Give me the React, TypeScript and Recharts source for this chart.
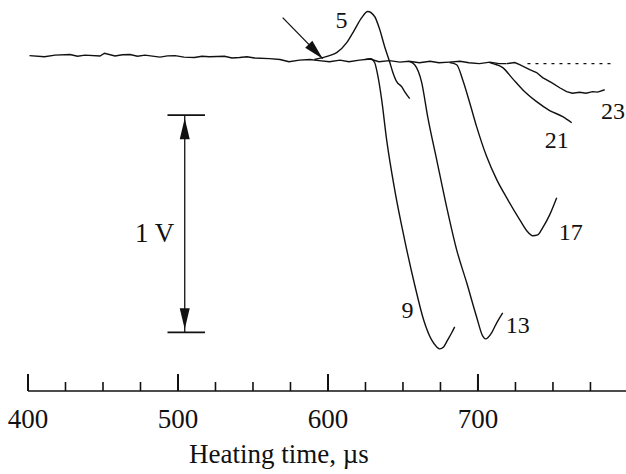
import React from 'react';
import {
  LineChart,
  Line,
  XAxis,
  YAxis,
  ReferenceLine,
  ReferenceDot,
} from 'recharts';

// x: heating time (µs), y: signal (V)
const baseline = [
  { t: 401, v: 0.024 }, { t: 411, v: 0.019 }, { t: 418, v: 0.026 }, { t: 428, v: 0.029 },
  { t: 433, v: 0.021 }, { t: 438, v: 0.026 }, { t: 448, v: 0.022 }, { t: 451, v: 0.035 },
  { t: 458, v: 0.022 }, { t: 463, v: 0.028 }, { t: 468, v: 0.029 }, { t: 473, v: 0.021 },
  { t: 478, v: 0.026 }, { t: 488, v: 0.017 }, { t: 493, v: 0.023 }, { t: 498, v: 0.024 },
  { t: 504, v: 0.017 }, { t: 511, v: 0.015 }, { t: 516, v: 0.021 }, { t: 521, v: 0.019 },
  { t: 531, v: 0.021 }, { t: 536, v: 0.013 }, { t: 541, v: 0.015 }, { t: 546, v: 0.019 },
  { t: 551, v: 0.013 }, { t: 561, v: 0.01 }, { t: 568, v: 0.006 }, { t: 574, v: -0.004 },
  { t: 581, v: 0.003 }, { t: 588, v: 0.006 }, { t: 594, v: 0.001 }, { t: 601, v: -0.004 },
  { t: 608, v: 0.003 }, { t: 614, v: -0.004 }, { t: 621, v: 0.003 }, { t: 628, v: 0.008 },
  { t: 634, v: -0.004 }, { t: 641, v: 0.001 }, { t: 648, v: -0.006 }, { t: 654, v: -0.002 },
  { t: 661, v: -0.009 }, { t: 668, v: -0.002 }, { t: 674, v: -0.009 }, { t: 681, v: -0.006 },
  { t: 688, v: -0.002 }, { t: 694, v: -0.009 }, { t: 701, v: -0.013 }, { t: 708, v: -0.006 },
  { t: 714, v: -0.013 }, { t: 719, v: -0.013 },
];

const curve5 = [
  { t: 591, v: 0.006 }, { t: 596.5, v: 0.015 }, { t: 601, v: 0.024 }, { t: 605.8, v: 0.038 },
  { t: 612.5, v: 0.084 }, { t: 617.8, v: 0.144 }, { t: 622.5, v: 0.199 }, { t: 626.5, v: 0.227 },
  { t: 631.1, v: 0.204 }, { t: 634.5, v: 0.144 }, { t: 637.8, v: 0.065 }, { t: 641.1, v: -0.004 },
  { t: 643.1, v: -0.05 }, { t: 645.8, v: -0.096 }, { t: 649.1, v: -0.119 }, { t: 651.1, v: -0.142 },
  { t: 654.5, v: -0.174 },
];

const curve9 = [
  { t: 625, v: 0.006 }, { t: 628.5, v: 0.01 }, { t: 631.1, v: -0.008 }, { t: 633.1, v: -0.064 },
  { t: 635.8, v: -0.179 }, { t: 639.1, v: -0.363 }, { t: 644.5, v: -0.594 }, { t: 651.1, v: -0.824 },
  { t: 657.8, v: -1.031 }, { t: 663.8, v: -1.193 }, { t: 669.1, v: -1.285 }, { t: 672.5, v: -1.317 },
  { t: 674.5, v: -1.326 }, { t: 677.1, v: -1.317 }, { t: 679.8, v: -1.285 }, { t: 682.5, v: -1.252 },
  { t: 684.5, v: -1.225 },
];

const curve13 = [
  { t: 654.5, v: -0.004 }, { t: 657.8, v: -0.018 }, { t: 662.5, v: -0.1 }, { t: 666.5, v: -0.258 },
  { t: 672.5, v: -0.456 }, { t: 679.1, v: -0.672 }, { t: 685.8, v: -0.87 }, { t: 692.5, v: -1.022 },
  { t: 699.1, v: -1.179 }, { t: 703.1, v: -1.266 }, { t: 705.1, v: -1.28 }, { t: 709.1, v: -1.252 },
  { t: 712.5, v: -1.206 }, { t: 716.5, v: -1.16 },
];

const curve17 = [
  { t: 681.1, v: -0.008 }, { t: 685.8, v: -0.018 }, { t: 689.8, v: -0.087 }, { t: 694.5, v: -0.193 },
  { t: 699.1, v: -0.303 }, { t: 705.8, v: -0.441 }, { t: 712.5, v: -0.547 }, { t: 719.1, v: -0.63 },
  { t: 727.8, v: -0.731 }, { t: 733.1, v: -0.787 }, { t: 736.5, v: -0.805 }, { t: 739.8, v: -0.801 },
  { t: 743.1, v: -0.769 }, { t: 747.8, v: -0.709 }, { t: 752.5, v: -0.63 },
];

const curve21 = [
  { t: 707.8, v: -0.008 }, { t: 712.5, v: -0.018 }, { t: 716.5, v: -0.031 }, { t: 723.1, v: -0.082 },
  { t: 729.8, v: -0.133 }, { t: 739.1, v: -0.188 }, { t: 747.8, v: -0.229 }, { t: 756.5, v: -0.257 },
  { t: 762.5, v: -0.285 },
];

const curve23 = [
  { t: 719.1, v: -0.013 }, { t: 724.5, v: -0.008 }, { t: 727.8, v: -0.018 }, { t: 734.5, v: -0.041 },
  { t: 739.1, v: -0.054 }, { t: 743.1, v: -0.077 }, { t: 749.1, v: -0.1 }, { t: 754.5, v: -0.124 },
  { t: 759.1, v: -0.142 }, { t: 763, v: -0.149 }, { t: 767.8, v: -0.145 }, { t: 772, v: -0.149 },
  { t: 776.5, v: -0.142 }, { t: 779.8, v: -0.144 }, { t: 784.5, v: -0.133 },
];

const dottedLevel = [{ t: 733, v: -0.013 }, { t: 790, v: -0.013 }];

const curveLabels = [
  { text: '5', t: 609, v: 0.19 },
  { text: '9', t: 653, v: -1.147 },
  { text: '13', t: 726.5, v: -1.216 },
  { text: '17', t: 761.8, v: -0.787 },
  { text: '21', t: 752.5, v: -0.363 },
  { text: '23', t: 790, v: -0.23 },
];

const xTicks = [400, 425, 450, 475, 500, 525, 550, 575, 600, 625, 650, 675, 700, 725, 750, 775];
const majorTicks = [400, 500, 600, 700];

const ink = '#111';
const serif = '"Liberation Serif", "Times New Roman", serif';

const TimeTick = (props: any) => {
  const { x, y, payload } = props;
  const major = majorTicks.includes(payload.value);
  return (
    <g>
      <line x1={x} x2={x} y1={y} y2={y - (major ? 17 : 9)} stroke={ink} strokeWidth={major ? 2 : 1.6} />
      {major && (
        <text x={x} y={y + 37} textAnchor="middle" fontFamily={serif} fontSize={27} fill={ink}>
          {payload.value}
        </text>
      )}
    </g>
  );
};

// line with a filled head at the (x2,y2) end, optionally both ends
const arrowShape = (both: boolean, len: number, half: number, inset: number) => (p: any) => {
  const { x1, y1, x2, y2 } = p;
  const dx = x2 - x1;
  const dy = y2 - y1;
  const d = Math.sqrt(dx * dx + dy * dy) || 1;
  const ux = dx / d;
  const uy = dy / d;
  const head = (tx: number, ty: number, sx: number, sy: number) => {
    const px = tx - sx * inset;
    const py = ty - sy * inset;
    const bx = px - sx * len;
    const by = py - sy * len;
    return `${px},${py} ${bx - sy * half},${by + sx * half} ${bx + sy * half},${by - sx * half}`;
  };
  return (
    <g>
      <line x1={x1} y1={y1} x2={x2} y2={y2} stroke={ink} strokeWidth={1.3} />
      <polygon points={head(x2, y2, ux, uy)} fill={ink} />
      {both && <polygon points={head(x1, y1, -ux, -uy)} fill={ink} />}
    </g>
  );
};

export default function App() {
  return (
    <div style={{ position: 'absolute', left: 0, top: 0, width: 626, height: 474, background: '#fff' }}>
      <LineChart width={626} height={474} margin={{ top: 0, right: 0, bottom: 0, left: 28 }}>
        <XAxis
          type="number"
          dataKey="t"
          domain={[400, 798.7]}
          ticks={xTicks}
          interval={0}
          height={83}
          tickSize={0}
          tickMargin={0}
          tick={<TimeTick />}
          tickLine={false}
          axisLine={{ stroke: ink, strokeWidth: 1.6 }}
          label={{
            value: 'Heating time, \u00b5s',
            position: 'insideBottom',
            offset: 11,
            dx: -48,
            fontFamily: serif,
            fontSize: 27,
            fill: ink,
          }}
        />
        <YAxis type="number" dataKey="v" domain={[-1.52, 0.28]} hide allowDataOverflow />

        <Line data={baseline} dataKey="v" type="linear" stroke={ink} strokeWidth={1.4} dot={false} isAnimationActive={false} />
        <Line data={curve5} dataKey="v" type="monotone" stroke={ink} strokeWidth={1.4} dot={false} isAnimationActive={false} />
        <Line data={curve9} dataKey="v" type="monotone" stroke={ink} strokeWidth={1.4} dot={false} isAnimationActive={false} />
        <Line data={curve13} dataKey="v" type="monotone" stroke={ink} strokeWidth={1.4} dot={false} isAnimationActive={false} />
        <Line data={curve17} dataKey="v" type="monotone" stroke={ink} strokeWidth={1.4} dot={false} isAnimationActive={false} />
        <Line data={curve21} dataKey="v" type="monotone" stroke={ink} strokeWidth={1.4} dot={false} isAnimationActive={false} />
        <Line data={curve23} dataKey="v" type="linear" stroke={ink} strokeWidth={1.4} dot={false} isAnimationActive={false} />
        <Line data={dottedLevel} dataKey="v" type="linear" stroke={ink} strokeWidth={1.4} strokeDasharray="3 5" dot={false} isAnimationActive={false} />

        {/* 1 V scale bar */}
        <ReferenceLine segment={[{ x: 493, y: -0.25 }, { x: 518, y: -0.25 }]} stroke={ink} strokeWidth={1.6} />
        <ReferenceLine segment={[{ x: 493, y: -1.25 }, { x: 518, y: -1.25 }]} stroke={ink} strokeWidth={1.6} />
        <ReferenceLine
          segment={[{ x: 504.5, y: -0.25 }, { x: 504.5, y: -1.25 }]}
          shape={arrowShape(true, 21, 5, 3)}
        />
        <ReferenceDot
          x={484.5}
          y={-0.788}
          r={1}
          fill="none"
          stroke="none"
          label={{ value: '1 V', position: 'center', fontFamily: serif, fontSize: 27, fill: ink }}
        />

        {/* onset arrow */}
        <ReferenceLine
          segment={[{ x: 569.8, y: 0.199 }, { x: 596.5, y: 0.01 }]}
          shape={arrowShape(false, 20, 5, 0)}
        />

        {curveLabels.map((c) => (
          <ReferenceDot
            key={c.text}
            x={c.t}
            y={c.v}
            r={1}
            fill="none"
            stroke="none"
            label={{ value: c.text, position: 'center', fontFamily: serif, fontSize: 24, fill: ink }}
          />
        ))}
      </LineChart>
    </div>
  );
}
